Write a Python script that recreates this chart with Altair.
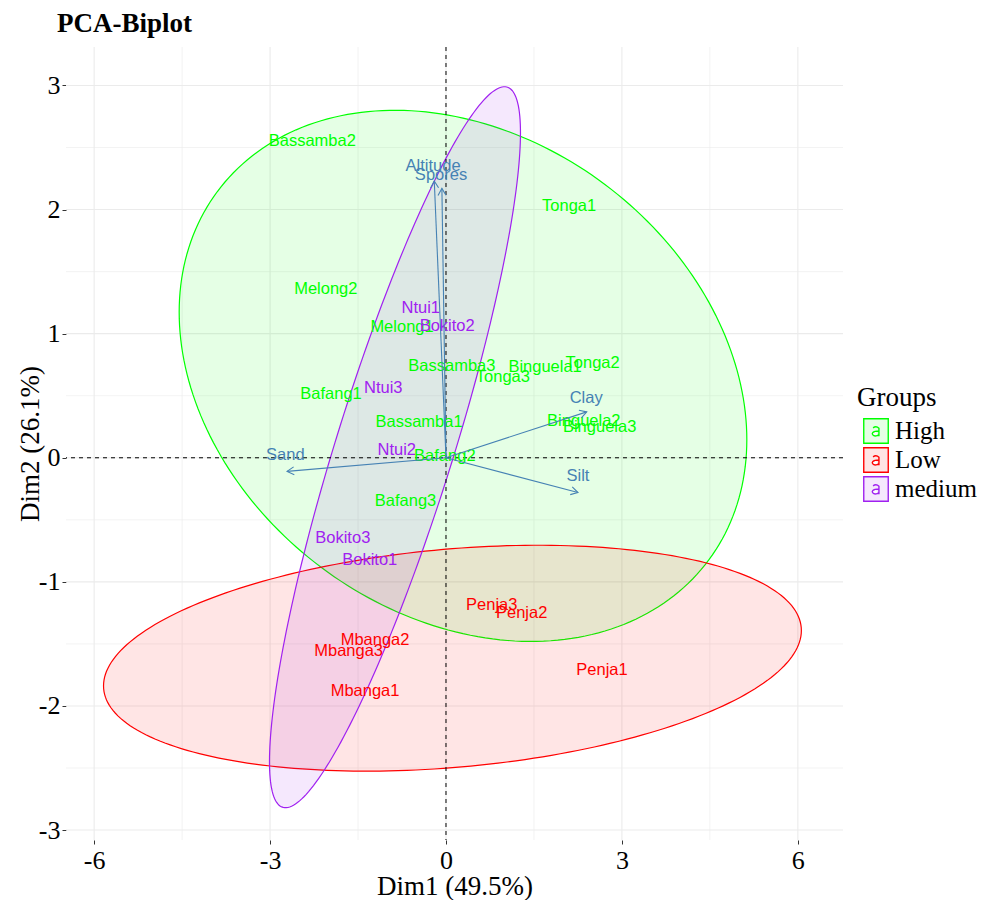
import math
import numpy as np
import pandas as pd
import altair as alt

# ---------------- data ----------------
labels = ["Bassamba2", "Tonga1", "Melong2", "Melong1", "Ntui1", "Bokito2",
          "Bassamba3", "Binguela1", "Tonga2", "Tonga3", "Ntui3", "Bafang1",
          "Bassamba1", "Binguela2", "Binguela3", "Ntui2", "Bafang2", "Bafang3",
          "Bokito3", "Bokito1", "Penja3", "Penja2", "Mbanga2", "Mbanga3",
          "Penja1", "Mbanga1"]
groups = ["High", "High", "High", "High", "medium", "medium",
          "High", "High", "High", "High", "medium", "High",
          "High", "High", "High", "medium", "High", "High",
          "medium", "medium", "Low", "Low", "Low", "Low",
          "Low", "Low"]
dim1 = [-2.28, 2.10, -2.05, -0.75, -0.43, 0.02,
        0.10, 1.69, 2.50, 0.97, -1.07, -1.96,
        -0.46, 2.35, 2.62, -0.84, -0.02, -0.69,
        -1.76, -1.30, 0.78, 1.29, -1.21, -1.66,
        2.66, -1.38]
dim2 = [2.55, 2.03, 1.36, 1.05, 1.21, 1.06,
        0.74, 0.73, 0.76, 0.65, 0.56, 0.51,
        0.285, 0.30, 0.25, 0.06, 0.016, -0.35,
        -0.65, -0.82, -1.19, -1.25, -1.47, -1.56,
        -1.71, -1.88]

var_names = ["Altitude", "Spores", "Clay", "Silt", "Sand"]
var_x = [-0.20, -0.07, 2.40, 2.25, -2.71]
var_y = [2.23, 2.17, 0.37, -0.28, -0.11]
var_lab_x = [-0.22, -0.085, 2.39, 2.25, -2.74]
var_lab_y = [2.35, 2.28, 0.48, -0.15, 0.02]

ell_groups = ["High", "Low", "medium"]
ell_colors = ["#00FF00", "#FF0000", "#A020F0"]
ell_fills = ["rgba(0,255,0,0.1)", "rgba(255,0,0,0.1)", "rgba(160,32,240,0.1)"]
ell_cx = [0.29, 0.11, -0.87]
ell_cy = [0.66, -1.615, 0.085]
ell_rx = [4.84, 5.95, 2.14]
ell_ry = [2.14, 0.91, 2.905]
ell_rho = [-0.24, 0.245, 0.872]

x_ticks = [-6, -3, 0, 3, 6]
y_ticks = [-3, -2, -1, 0, 1, 2, 3]
x_minor = [-4.5, -1.5, 1.5, 4.5]
y_minor = [-2.5, -1.5, -0.5, 0.5, 1.5, 2.5]

X_DOMAIN = [-6.48, 6.77]
Y_DOMAIN = [-3.08, 3.31]
W, H = 777, 793

# ---------------- frames ----------------
pts = pd.DataFrame({"label": labels, "group": groups, "x": dim1, "y": dim2})

sx = W / (X_DOMAIN[1] - X_DOMAIN[0])
sy = H / (Y_DOMAIN[1] - Y_DOMAIN[0])
angles = [(math.degrees(math.atan2(vx * sx, vy * sy)) + 360) % 360
          for vx, vy in zip(var_x, var_y)]
arrows = pd.DataFrame({"name": var_names, "x": [0.0] * 5, "y": [0.0] * 5,
                       "x2": var_x, "y2": var_y})
heads = pd.DataFrame({"x": var_x, "y": var_y, "angle": angles})
vlabs = pd.DataFrame({"name": var_names, "x": var_lab_x, "y": var_lab_y})

rows = []
t = np.linspace(0, 2 * np.pi, 241)
for g, cx, cy, rx, ry, rho in zip(ell_groups, ell_cx, ell_cy, ell_rx, ell_ry, ell_rho):
    xs = cx + rx * np.cos(t)
    ys = cy + ry * (rho * np.cos(t) + np.sqrt(1 - rho ** 2) * np.sin(t))
    for i, (a, b) in enumerate(zip(xs, ys)):
        rows.append({"group": g, "i": i, "x": float(a), "y": float(b)})
ell = pd.DataFrame(rows)

gx_major = pd.DataFrame({"x": x_ticks})
gx_minor = pd.DataFrame({"x": x_minor})
gy_major = pd.DataFrame({"y": y_ticks})
gy_minor = pd.DataFrame({"y": y_minor})
zero_x = pd.DataFrame({"x": [0.0]})
zero_y = pd.DataFrame({"y": [0.0]})

# ---------------- encodings ----------------
SERIF = "Liberation Serif"
SANS = "Liberation Sans"

xaxis = alt.Axis(values=x_ticks, grid=False, domain=False, ticks=True, tickSize=4,
                 tickColor="#333333", labelFont=SERIF, labelFontSize=26,
                 labelColor="black", labelPadding=3, title="Dim1 (49.5%)",
                 titleFont=SERIF, titleFontSize=27, titleFontWeight="normal",
                 titleColor="black", titlePadding=0, labelExpr="'' + datum.value",
                 labelFlush=False)
yaxis = alt.Axis(values=y_ticks, grid=False, domain=False, ticks=True, tickSize=4,
                 tickColor="#333333", labelFont=SERIF, labelFontSize=26,
                 labelColor="black", labelPadding=2, title="Dim2 (26.1%)",
                 titleFont=SERIF, titleFontSize=27, titleFontWeight="normal",
                 titleColor="black", titlePadding=-6, labelExpr="'' + datum.value",
                 labelFlush=False)
xscale = alt.Scale(domain=X_DOMAIN, nice=False, zero=False)
yscale = alt.Scale(domain=Y_DOMAIN, nice=False, zero=False)

def X():
    return alt.X("x:Q", scale=xscale, axis=xaxis)

def Y():
    return alt.Y("y:Q", scale=yscale, axis=yaxis)

def C():
    return alt.Color("group:N", scale=alt.Scale(domain=ell_groups, range=ell_colors),
                     legend=None)

a_glyph = ("M -1 -1 L 1 -1 L 1 1 L -1 1 Z "
           "M -0.24 -0.26 Q 0.02 -0.44 0.24 -0.22 L 0.24 0.42 "
           "M 0.24 0.0 C -0.32 0.0 -0.36 0.2 -0.26 0.32 C -0.14 0.48 0.18 0.4 0.24 0.26")

legend = alt.Legend(
    title="Groups", orient="none", legendX=791, legendY=338,
    titleFont=SERIF, titleFontSize=27, titleFontWeight="normal", titleColor="black",
    titlePadding=6, labelFont=SERIF, labelFontSize=25, labelColor="black",
    labelOffset=6, symbolOffset=6, rowPadding=-9, symbolSize=600,
    symbolType=a_glyph, symbolStrokeWidth=1.4,
)

# ---------------- layers ----------------
grid_major_v = alt.Chart(gx_major).mark_rule(color="#EBEBEB", strokeWidth=1.1).encode(x=X())
grid_minor_v = alt.Chart(gx_minor).mark_rule(color="#EBEBEB", strokeWidth=0.6).encode(x=X())
grid_major_h = alt.Chart(gy_major).mark_rule(color="#EBEBEB", strokeWidth=1.1).encode(y=Y())
grid_minor_h = alt.Chart(gy_minor).mark_rule(color="#EBEBEB", strokeWidth=0.6).encode(y=Y())

ell_layer = alt.Chart(ell).mark_line(filled=True, strokeWidth=1.2).encode(
    x=X(), y=Y(),
    fill=alt.Fill("group:N", scale=alt.Scale(domain=ell_groups, range=ell_fills),
                  legend=legend),
    stroke=alt.Stroke("group:N", scale=alt.Scale(domain=ell_groups, range=ell_colors),
                      legend=legend),
    detail="group:N", order="i:Q")

vline = alt.Chart(zero_x).mark_rule(color="black", strokeDash=[4, 4], strokeWidth=1).encode(x=X())
hline = alt.Chart(zero_y).mark_rule(color="black", strokeDash=[4, 4], strokeWidth=1).encode(y=Y())

ptext = alt.Chart(pts).mark_text(font=SANS, fontSize=16.5, align="center",
                                 baseline="middle").encode(
    x=X(), y=Y(), text="label:N", color=C())

arrow_lines = alt.Chart(arrows).mark_rule(color="#4682B4", strokeWidth=1.1).encode(
    x=X(), y=Y(), x2="x2:Q", y2="y2:Q")
arrow_heads = alt.Chart(heads).mark_point(
    shape="M -0.5 0.866 L 0 0 L 0.5 0.866", size=256, filled=False,
    color="#4682B4", strokeWidth=1.1, opacity=1).encode(
    x=X(), y=Y(), angle=alt.Angle("angle:Q", scale=None))
arrow_text = alt.Chart(vlabs).mark_text(font=SANS, fontSize=16.5, color="#4682B4",
                                        align="center", baseline="middle").encode(
    x=X(), y=Y(), text="name:N")

chart = alt.layer(
    grid_minor_v, grid_minor_h, grid_major_v, grid_major_h,
    ell_layer, vline, hline, ptext,
    arrow_lines, arrow_heads, arrow_text,
).properties(
    width=W, height=H,
    background="white",
    title=alt.TitleParams("PCA-Biplot", anchor="start", frame="group", font=SERIF,
                          fontSize=27, fontWeight="bold", color="black", dx=-9,
                          offset=8),
    padding={"left": 58, "top": 39, "right": 135, "bottom": 60},
    autosize=alt.AutoSizeParams(type="none"),
).configure_view(stroke=None)

chart.save("out.html", embed_options={"renderer": "svg", "actions": False})
